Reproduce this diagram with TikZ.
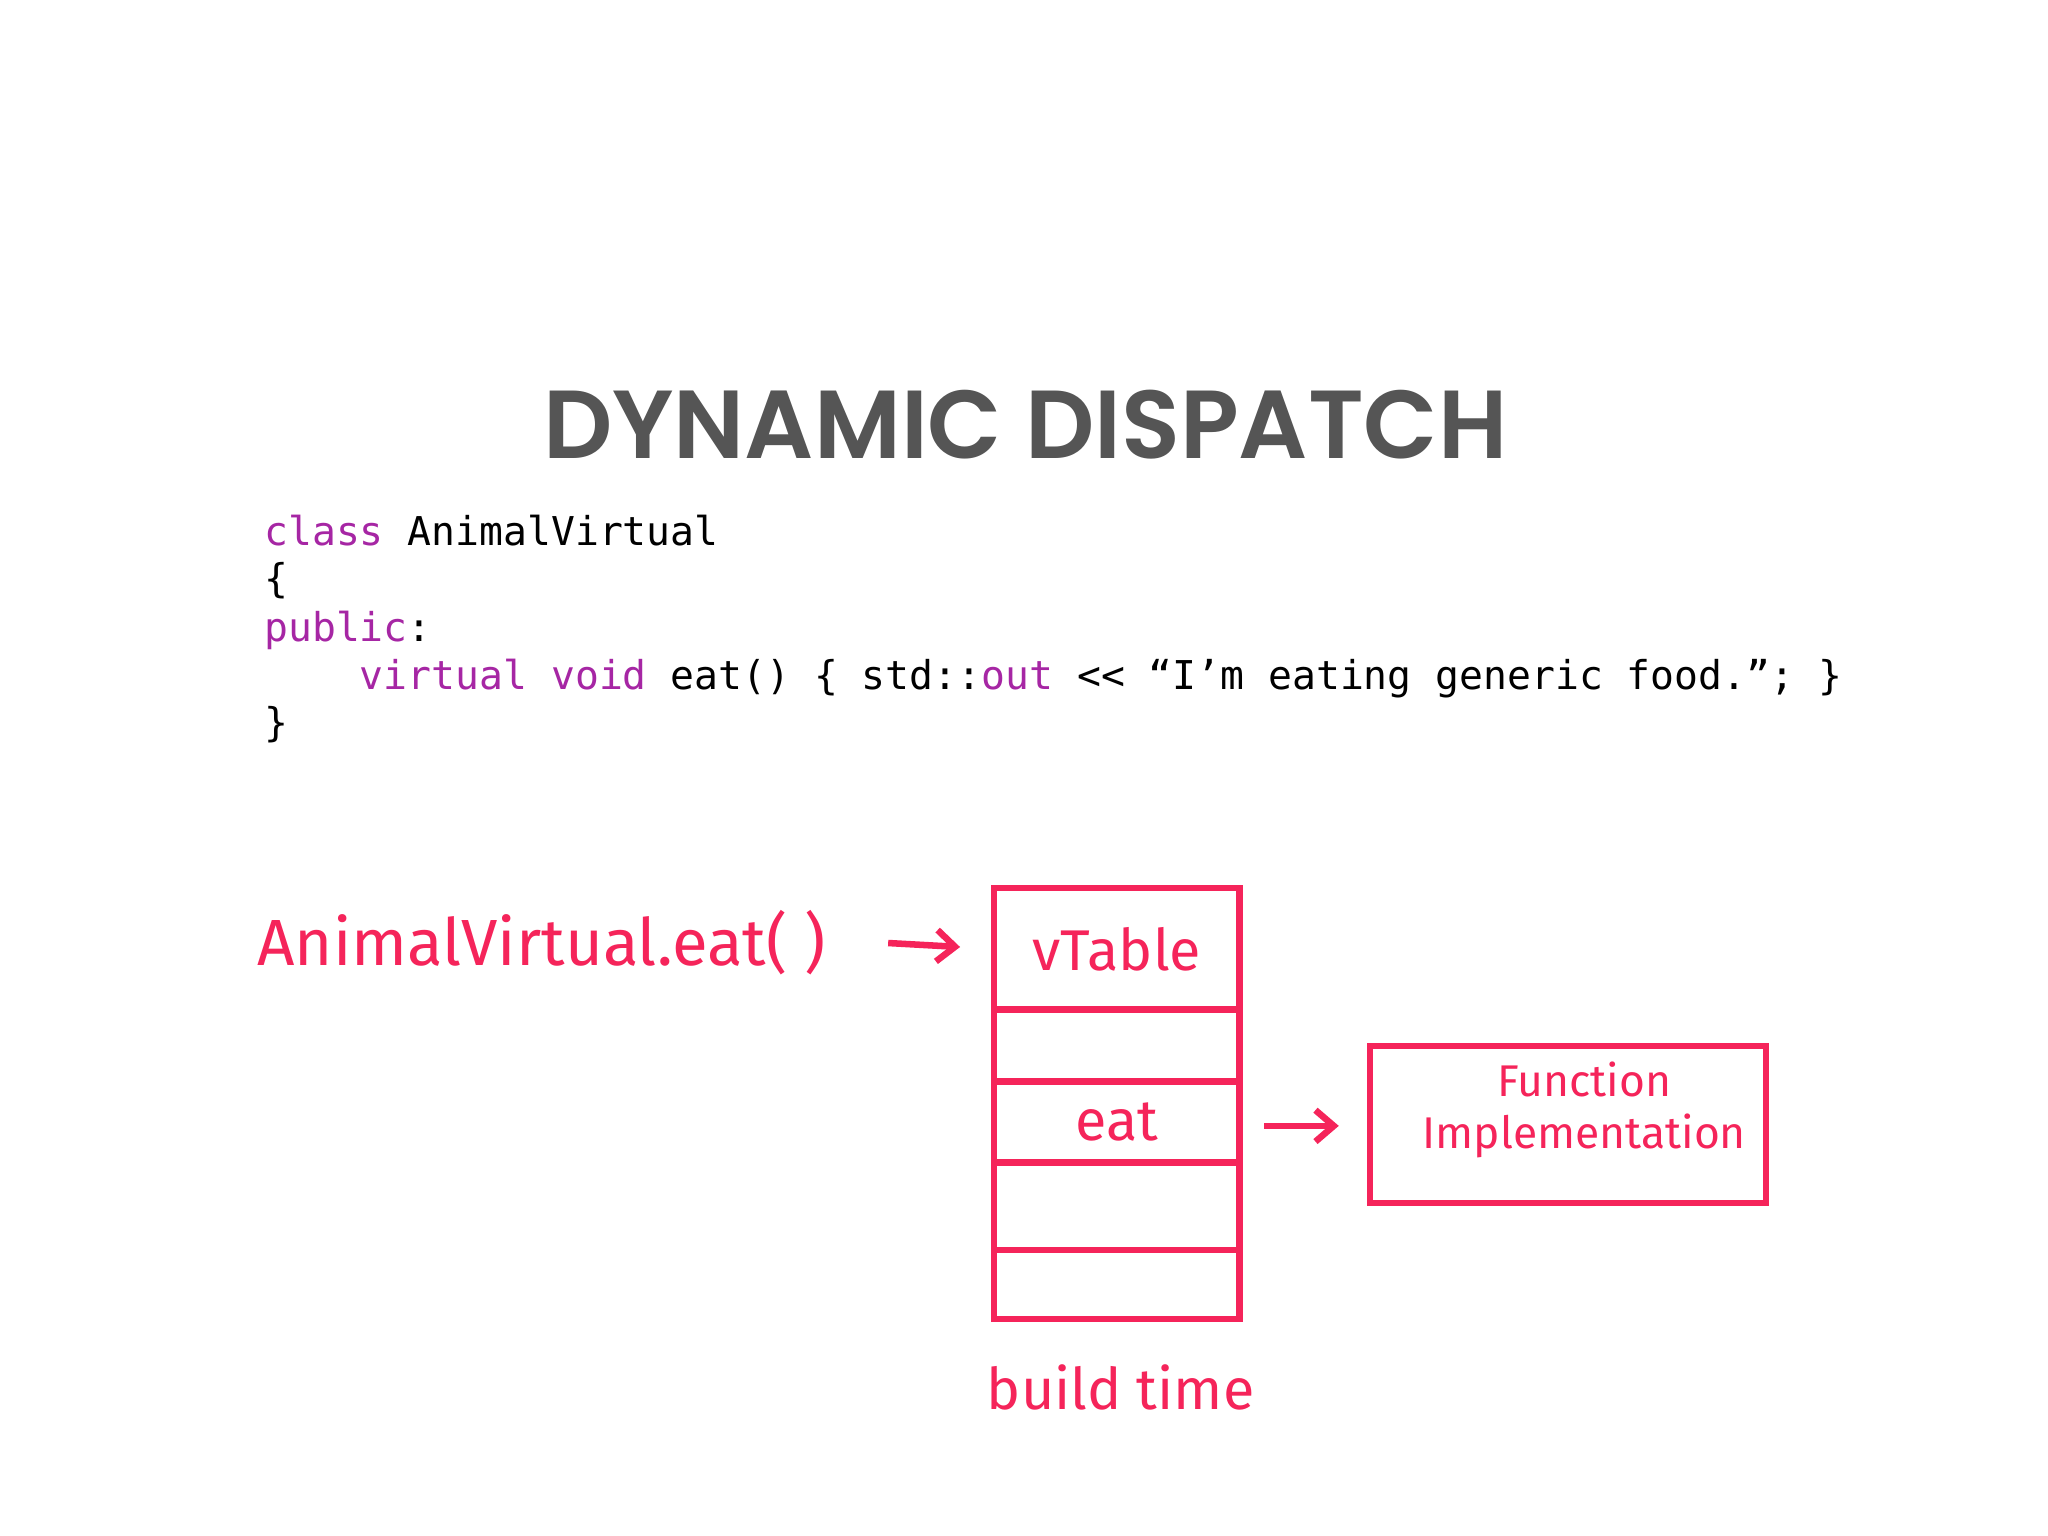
\documentclass[tikz,border=0pt]{standalone}
\usepackage{fontspec}
\setmainfont{Liberation Sans}
\newfontfamily\titlefont{Poppins SemiBold}
\newfontfamily\codefont{DejaVu Sans Mono}
\newfontfamily\handfont{Fira Sans}
\usetikzlibrary{arrows.meta}
\definecolor{hand}{HTML}{F5245A}
\definecolor{kw}{HTML}{A626A4}
\definecolor{tgray}{HTML}{555555}
\tikzset{
 cell/.style={draw=hand,line width=2.5pt,minimum width=94pt,inner sep=0pt,outer sep=0pt},
 hw/.style={text=hand,font=\handfont},
 arr/.style={draw=hand,line width=2.5pt,-{Straight Barb[length=7pt,width=12pt]}},
 code/.style={anchor=base west,font=\codefont\fontsize{15.2}{18}\selectfont,inner sep=0pt}
}
\begin{document}
\begin{tikzpicture}[x=0.5pt,y=-0.5pt]
\useasboundingbox[fill=white] (0,0) rectangle (1568,1176);
\node[font=\titlefont\fontsize{37}{40}\selectfont,text=tgray] (title) at (785,325) {DYNAMIC DISPATCH};
\node[code] (l1) at (202,418) {\textcolor{kw}{class} AnimalVirtual};
\node[code] (l2) at (202,454) {\{};
\node[code] (l3) at (202,491) {\textcolor{kw}{public}:};
\node[code] (l4) at (202,528) {\phantom{xxxx}\textcolor{kw}{virtual} \textcolor{kw}{void} eat() \{ std::\textcolor{kw}{out} << “I’m eating generic food.”; \}};
\node[code] (l5) at (202,564) {\}};
% vtable
\node[cell,minimum height=46.5pt,anchor=north west] (r1) at (761,680) {};
\node[cell,minimum height=27.5pt,anchor=north] (r2) at (r1.south) {};
\node[cell,minimum height=31pt,anchor=north] (r3) at (r2.south) {};
\node[cell,minimum height=33.5pt,anchor=north] (r4) at (r3.south) {};
\node[cell,minimum height=26.5pt,anchor=north] (r5) at (r4.south) {};
\node[hw,font=\handfont\fontsize{22}{24}\selectfont] (vt) at (r1) {vTable};
\node[hw,font=\handfont\fontsize{22}{24}\selectfont] (eat) at (r3) {eat};
\node[hw,font=\handfont\fontsize{25}{28}\selectfont,anchor=west] (call) at (190,722) {AnimalVirtual.eat( )};
\node[cell,minimum width=151.5pt,minimum height=60pt,anchor=north west] (fn) at (1049,801) {};
\node[hw,font=\handfont\fontsize{17}{20}\selectfont,align=center] (fntxt) at (1213,850) {Function\\Implementation};
\node[hw,font=\handfont\fontsize{22}{24}\selectfont] (bt) at (858,1062) {build time};
\coordinate (a1) at (680,722);
\draw[arr,shorten >=13pt] (a1) -- (r1.west);
\coordinate (a2) at (968,862);
\draw[arr,shorten >=12pt] (a2) -- (fn.west |- a2);
\end{tikzpicture}
\end{document}
